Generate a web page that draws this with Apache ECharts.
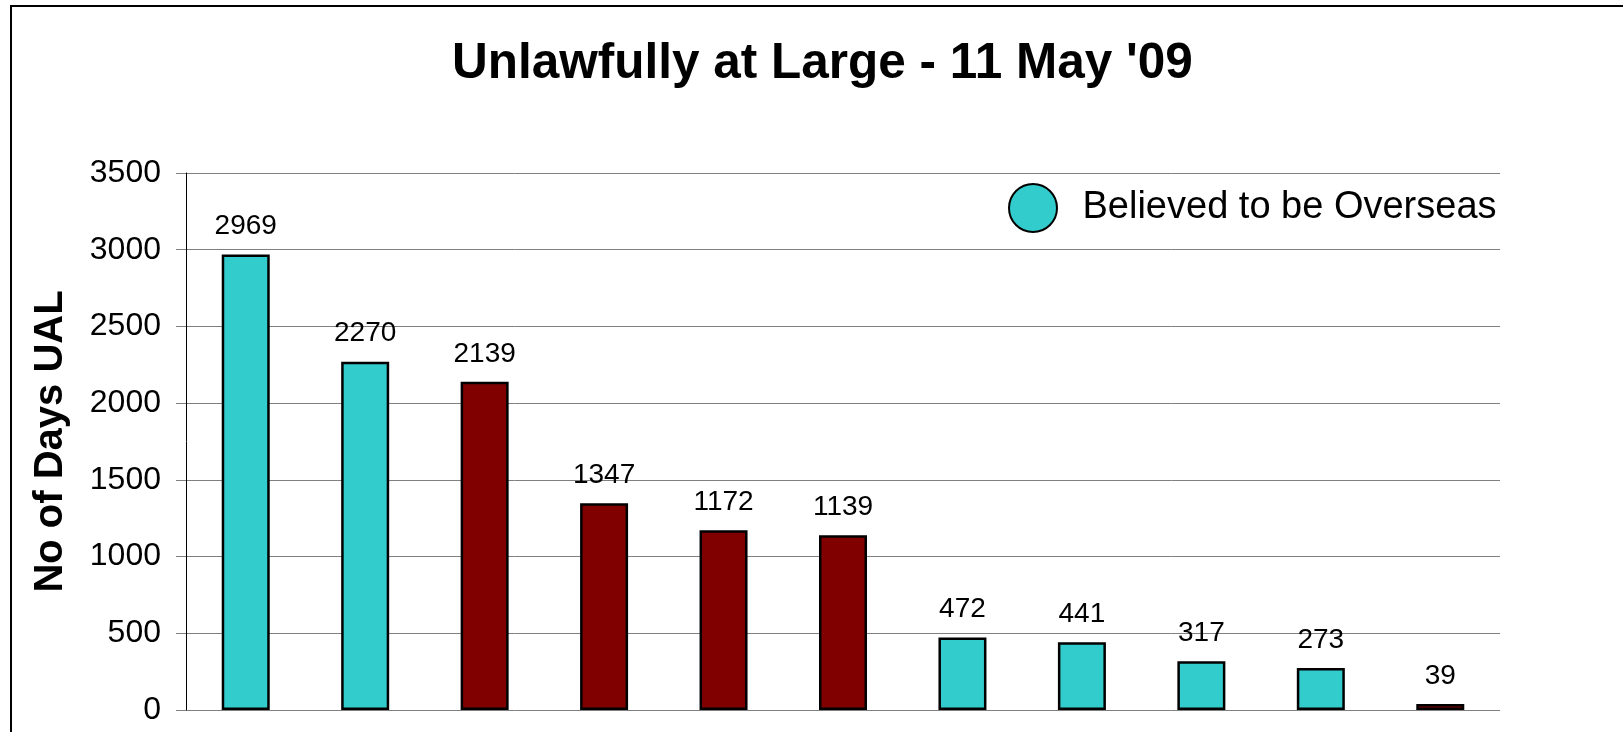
<!DOCTYPE html>
<html>
<head>
<meta charset="utf-8">
<script src="https://cdn.jsdelivr.net/npm/echarts@6/dist/echarts.min.js"></script>
<style>
    html, body { margin: 0; padding: 0; background: #fff; }
    #chart { width: 1623px; height: 732px; }
</style>
</head>
<body>
<div id="chart"></div>
<script>
const categories = ['1', '2', '3', '4', '5', '6', '7', '8', '9', '10', '11'];
const overseas = [2969, 2270, null, null, null, null, 472, 441, 317, 273, null];
const others = [null, null, 2139, 1347, 1172, 1139, null, null, null, null, 39];
const yTicks = [0, 500, 1000, 1500, 2000, 2500, 3000, 3500];

const font = '"Liberation Sans", Arial, sans-serif';

const barLabel = {
    show: true,
    position: 'top',
    distance: 14,
    color: '#000',
    fontSize: 28,
    fontFamily: font,
    formatter: (p) => (p.value == null ? '' : p.value)
};

const myChart = echarts.init(document.getElementById('chart'));
const option = {
    backgroundColor: '#fff',
    animation: false,
    graphic: [{
        type: 'rect',
        shape: {x: 11, y: 6, width: 3000, height: 3000},
        style: {fill: 'none', stroke: '#000', lineWidth: 2},
        silent: true
    }],
    title: {
        text: "Unlawfully at Large - 11 May '09",
        left: 447,
        top: 34,
        textStyle: {
            fontSize: 49.5,
            fontWeight: 'bold',
            color: '#000',
            fontFamily: font
        }
    },
    legend: {
        data: ['Believed to be Overseas'],
        left: 1003,
        top: 178,
        itemWidth: 49,
        itemHeight: 48,
        icon: 'circle',
        itemStyle: {borderColor: '#000', borderWidth: 2},
        textStyle: {
            fontSize: 38,
            color: '#000',
            fontFamily: font,
            padding: [0, 0, 0, 20]
        }
    },
    grid: {
        left: 186,
        top: 173,
        right: 123,
        bottom: 22
    },
    xAxis: {
        type: 'category',
        data: categories,
        axisLine: {show: false},
        axisTick: {show: false},
        axisLabel: {show: false}
    },
    yAxis: {
        type: 'value',
        min: yTicks[0],
        max: yTicks[yTicks.length - 1],
        interval: 500,
        name: 'No of Days UAL',
        nameLocation: 'middle',
        nameGap: 115,
        nameTextStyle: {
            fontSize: 40,
            fontWeight: 'bold',
            color: '#000',
            fontFamily: font
        },
        axisLine: {show: true, lineStyle: {color: '#000', width: 1}},
        axisTick: {show: true, length: 10, lineStyle: {color: '#808080'}},
        axisLabel: {
            margin: 25,
            fontSize: 32,
            color: '#000',
            fontFamily: font,
            formatter: (v) => String(v)
        },
        splitLine: {lineStyle: {color: '#808080', width: 1}}
    },
    series: [
        {
            name: 'Believed to be Overseas',
            type: 'bar',
            stack: 'days',
            barWidth: 48,
            data: overseas,
            itemStyle: {color: '#33CCCC', borderColor: '#000', borderWidth: 2.5},
            label: barLabel
        },
        {
            name: 'Other',
            type: 'bar',
            stack: 'days',
            barWidth: 48,
            data: others,
            itemStyle: {color: '#800000', borderColor: '#000', borderWidth: 2.5},
            label: barLabel
        }
    ]
};
myChart.setOption(option);
</script>
</body>
</html>
